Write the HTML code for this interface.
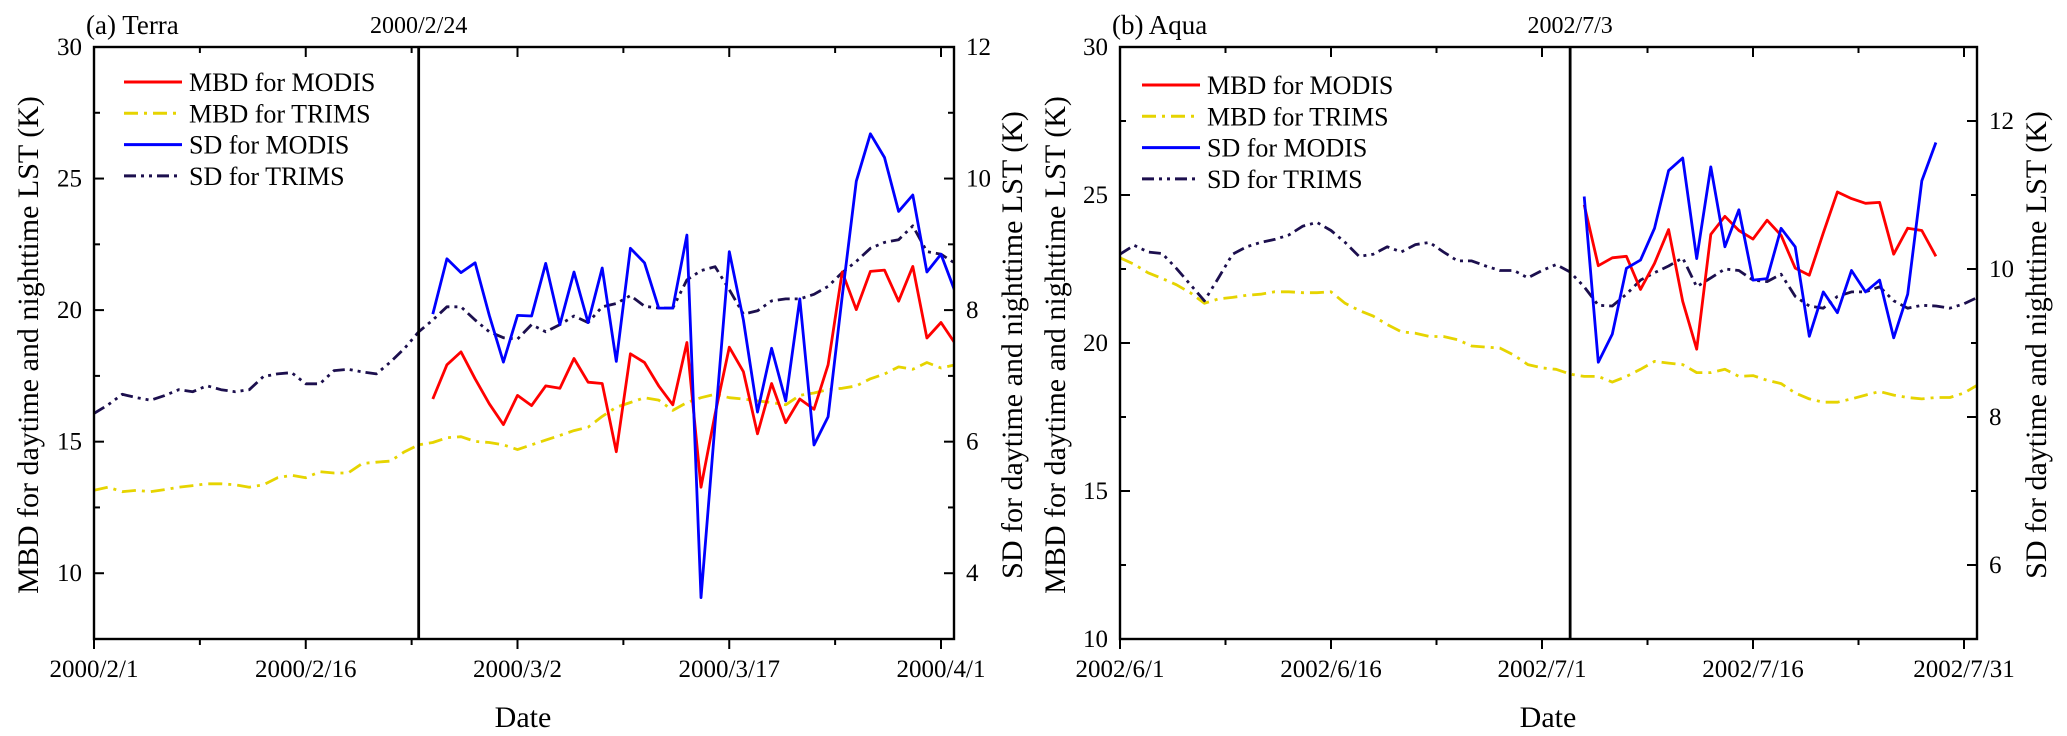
<!DOCTYPE html>
<html><head><meta charset="utf-8">
<style>
html,body{margin:0;padding:0;background:#fff;}
svg{display:block;font-family:"Liberation Serif","Times New Roman",serif;}
svg text{font-family:"Liberation Serif","Times New Roman",serif;}
</style></head>
<body>
<svg id="chart" width="2067" height="736" viewBox="0 0 2067 736" xmlns="http://www.w3.org/2000/svg"></svg>
<script>
// ---------- Panel (a) Terra data (day index from 2000/2/1) ----------
const terraTrimsSD = [6.43,6.56,6.72,6.67,6.63,6.70,6.79,6.76,6.85,6.79,6.76,6.79,6.99,7.03,7.05,6.88,6.88,7.08,7.10,7.06,7.03,7.21,7.42,7.67,7.85,8.05,8.05,7.85,7.67,7.58,7.56,7.78,7.67,7.78,7.91,7.81,8.05,8.10,8.22,8.06,8.03,8.03,8.46,8.60,8.66,8.31,7.94,7.99,8.14,8.17,8.17,8.24,8.36,8.57,8.74,8.94,9.03,9.07,9.28,8.89,8.85,8.71];
const terraTrimsMBD = [13.15,13.27,13.10,13.15,13.10,13.18,13.27,13.33,13.40,13.40,13.36,13.27,13.36,13.63,13.72,13.63,13.86,13.81,13.81,14.17,14.22,14.26,14.62,14.88,14.97,15.15,15.19,15.01,14.97,14.88,14.70,14.88,15.06,15.24,15.42,15.55,15.96,16.31,16.49,16.67,16.58,16.19,16.49,16.67,16.80,16.67,16.62,16.55,16.49,16.40,16.76,16.85,16.98,17.03,17.12,17.39,17.57,17.84,17.75,18.01,17.80,17.92];
const terraModisStart = 24;
const terraModisMBD = [16.62,17.92,18.41,17.39,16.44,15.65,16.76,16.37,17.12,17.03,18.16,17.26,17.21,14.62,18.34,18.01,17.12,16.40,18.77,13.27,16.05,18.59,17.66,15.30,17.21,15.72,16.62,16.23,17.92,21.45,20.02,21.47,21.52,20.34,21.66,18.94,19.53,18.73];
const terraModisSD = [7.94,8.78,8.57,8.72,7.92,7.21,7.92,7.91,8.71,7.78,8.58,7.81,8.64,7.22,8.94,8.72,8.03,8.03,9.14,3.63,6.28,8.89,7.85,6.45,7.42,6.62,8.17,5.95,6.38,8.21,9.96,10.68,10.32,9.50,9.75,8.58,8.85,8.28];
const terraXTicks = ["2000/2/1","2000/2/16","2000/3/2","2000/3/17","2000/4/1"];
const terraLeftTicks = [10,15,20,25,30];
const terraRightTicks = [4,6,8,10,12];

// ---------- Panel (b) Aqua data (day index from 2002/6/1) ----------
const aquaTrimsSD = [10.20,10.32,10.23,10.21,10.01,9.79,9.57,9.88,10.20,10.30,10.36,10.40,10.46,10.58,10.63,10.52,10.36,10.17,10.20,10.30,10.23,10.33,10.36,10.23,10.11,10.11,10.04,9.98,9.98,9.88,9.98,10.06,9.96,9.76,9.51,9.50,9.66,9.85,9.95,10.04,10.15,9.76,9.88,10.00,9.98,9.85,9.83,9.93,9.63,9.50,9.47,9.63,9.69,9.69,9.76,9.57,9.47,9.51,9.50,9.47,9.53,9.62];
const aquaTrimsMBD = [22.88,22.66,22.37,22.18,21.97,21.70,21.34,21.49,21.54,21.61,21.65,21.73,21.73,21.70,21.70,21.73,21.34,21.10,20.91,20.62,20.38,20.33,20.22,20.22,20.11,19.90,19.86,19.83,19.59,19.27,19.16,19.11,18.95,18.87,18.87,18.68,18.87,19.11,19.38,19.32,19.27,19.00,19.00,19.11,18.87,18.90,18.74,18.63,18.31,18.11,18.00,18.00,18.11,18.24,18.36,18.24,18.16,18.11,18.16,18.16,18.31,18.59];
const aquaModisStart = 33;
const aquaModisMBD = [24.67,22.61,22.88,22.93,21.81,22.69,23.83,21.41,19.79,23.67,24.28,23.80,23.51,24.15,23.64,22.53,22.29,23.72,25.10,24.88,24.72,24.75,23.00,23.88,23.80,22.93];
const aquaModisSD = [10.98,8.74,9.12,10.01,10.12,10.55,11.33,11.50,10.14,11.38,10.30,10.80,9.85,9.87,10.55,10.30,9.09,9.69,9.41,9.98,9.69,9.85,9.07,9.66,11.19,11.71];
const aquaXTicks = ["2002/6/1","2002/6/16","2002/7/1","2002/7/16","2002/7/31"];
const aquaLeftTicks = [10,15,20,25,30];
const aquaRightTicks = [6,8,10,12];

const legendLabels = ["MBD for MODIS","MBD for TRIMS","SD for MODIS","SD for TRIMS"];

const NS = "http://www.w3.org/2000/svg";
const svg = document.getElementById("chart");
function mk(tag, attrs, parent){
  const e = document.createElementNS(NS, tag);
  for (const k in attrs) e.setAttribute(k, attrs[k]);
  (parent||svg).appendChild(e);
  return e;
}
const C = {red:"#ff0000", yel:"#e6d400", blue:"#0000ff", navy:"#1c0f4e"};
const DASH_YEL = "14,6,3,6";
const DASH_NAVY = "12,5,3,5,3,5";

function panel(cfg){
  const g = mk("g", {});
  
  
  const L=cfg.L, R=cfg.R, T=47, B=639;
  const xs = d => L + d * (cfg.xEnd - L) / 60;
  const yl = v => B - (v - cfg.lMin) / (cfg.lMax - cfg.lMin) * (B - T);
  const yr = v => B - (v - cfg.rMin) / (cfg.rMax - cfg.rMin) * (B - T);

  const cid = cfg.name+"-clip";
  const cp = mk("clipPath", {id:cid}, g);
  mk("rect", {x:L, y:T, width:R-L, height:B-T}, cp);
  const plot = mk("g", {"clip-path":"url(#"+cid+")"}, g);
  function line2(vals, start, sc, color, dash, nm){
    const pts = vals.map((v,i)=> xs(start+i).toFixed(1)+","+sc(v).toFixed(1)).join(" ");
    const p = mk("polyline", {points:pts, fill:"none", stroke:color, "stroke-width":2.8, "stroke-linejoin":"round"}, plot);
    if (dash) p.setAttribute("stroke-dasharray", dash);
    
    
  }
  line2(cfg.trimsMBD, 0, yl, C.yel, DASH_YEL, "mbd-trims-line");
  line2(cfg.trimsSD, 0, yr, C.navy, DASH_NAVY, "sd-trims-line");
  line2(cfg.modisMBD, cfg.modisStart, yl, C.red, null, "mbd-modis-line");
  line2(cfg.modisSD, cfg.modisStart, yr, C.blue, null, "sd-modis-line");

  const vx = xs(cfg.eventDay);
  const vl = mk("line", {x1:vx, x2:vx, y1:T, y2:B, stroke:"#000", "stroke-width":2.8}, g);
  
  
  const vt = mk("text", {x:vx, y:33, "font-size":24, "text-anchor":"middle"}, g);
  vt.textContent = cfg.eventLabel;
  
  

  const fr = mk("rect", {x:L, y:T, width:R-L, height:B-T, fill:"none", stroke:"#000", "stroke-width":2.4}, g);
  
  

  for (let k=0;k<=8;k++){
    const d = k*7.5, x = xs(d);
    if (x > R+1) continue;
    const major = k%2===0;
    mk("line",{x1:x,x2:x,y1:B,y2:B+(major?10:6),stroke:"#000","stroke-width":2},g);
    mk("line",{x1:x,x2:x,y1:T,y2:T+(major?10:6),stroke:"#000","stroke-width":2},g);
    if (major){
      const t = mk("text",{x:x,y:677,"font-size":25,"text-anchor":"middle"},g);
      t.textContent = cfg.xTicks[k/2];
      
      
    }
  }
  for (let v=cfg.lMin; v<=cfg.lMax+0.01; v+=0.5){
    const r2 = Math.round(v*10)/10;
    if (Math.abs(r2/2.5 - Math.round(r2/2.5))>1e-6) continue;
    const major = Math.abs(r2/5-Math.round(r2/5))<1e-6;
    const y = yl(r2);
    mk("line",{x1:L,x2:L+(major?10:6),y1:y,y2:y,stroke:"#000","stroke-width":2},g);
  }
  cfg.lTicks.forEach(v=>{
    const t = mk("text",{x:L-12,y:yl(v)+8,"font-size":25,"text-anchor":"end"},g);
    t.textContent = v;
    
    
  });
  for (let v=Math.ceil(cfg.rMin); v<=cfg.rMax; v+=1){
    const major = v%2===0;
    const y = yr(v);
    mk("line",{x1:R,x2:R-(major?10:6),y1:y,y2:y,stroke:"#000","stroke-width":2},g);
  }
  cfg.rTicks.forEach(v=>{
    const t = mk("text",{x:R+12,y:yr(v)+8,"font-size":25,"text-anchor":"start"},g);
    t.textContent = v;
    
    
  });
  const pt = mk("text",{x:L-8,y:34,"font-size":27},g);
  pt.textContent = cfg.title;
  
  
  const xt = mk("text",{x:cfg.dateX,y:727,"font-size":30,"text-anchor":"middle"},g);
  xt.textContent = "Date";
  
  
  const ylt = mk("text",{x:0,y:0,"font-size":30,"text-anchor":"middle",transform:`translate(${cfg.lTitleX},345) rotate(-90)`},g);
  ylt.textContent = "MBD for daytime and nighttime LST (K)";
  
  
  const yrt = mk("text",{x:0,y:0,"font-size":30,"text-anchor":"middle",transform:`translate(${cfg.rTitleX},345) rotate(-90)`},g);
  yrt.textContent = "SD for daytime and nighttime LST (K)";
  
  

  const lg = mk("g",{},g);
  
  
  const cols=[C.red,C.yel,C.blue,C.navy], dashes=[null,DASH_YEL,null,DASH_NAVY];
  legendLabels.forEach((lab,i)=>{
    const y = cfg.legY + i*31.3;
    const ent = mk("g",{},lg);
    
    
    const ln = mk("line",{x1:cfg.legX,x2:cfg.legX+58,y1:y,y2:y,stroke:cols[i],"stroke-width":3},ent);
    if (dashes[i]) ln.setAttribute("stroke-dasharray", dashes[i]);
    const t = mk("text",{x:cfg.legX+65,y:y+9,"font-size":26},ent);
    t.textContent = lab;
  });
}

panel({name:"terra-panel", L:94, R:954, xEnd:941, lMin:7.5, lMax:30, rMin:3, rMax:12,
  trimsSD:terraTrimsSD, trimsMBD:terraTrimsMBD, modisStart:terraModisStart, modisMBD:terraModisMBD, modisSD:terraModisSD,
  xTicks:terraXTicks, lTicks:terraLeftTicks, rTicks:terraRightTicks, eventDay:23, eventLabel:"2000/2/24",
  title:"(a) Terra", dateX:523, lTitleX:38, rTitleX:1022, legX:124, legY:82});
panel({name:"aqua-panel", L:1120, R:1977, xEnd:1964, lMin:10, lMax:30, rMin:5, rMax:13,
  trimsSD:aquaTrimsSD, trimsMBD:aquaTrimsMBD, modisStart:aquaModisStart, modisMBD:aquaModisMBD, modisSD:aquaModisSD,
  xTicks:aquaXTicks, lTicks:aquaLeftTicks, rTicks:aquaRightTicks, eventDay:32, eventLabel:"2002/7/3",
  title:"(b) Aqua", dateX:1548, lTitleX:1065, rTitleX:2046, legX:1142, legY:85});
</script>
</body></html>
